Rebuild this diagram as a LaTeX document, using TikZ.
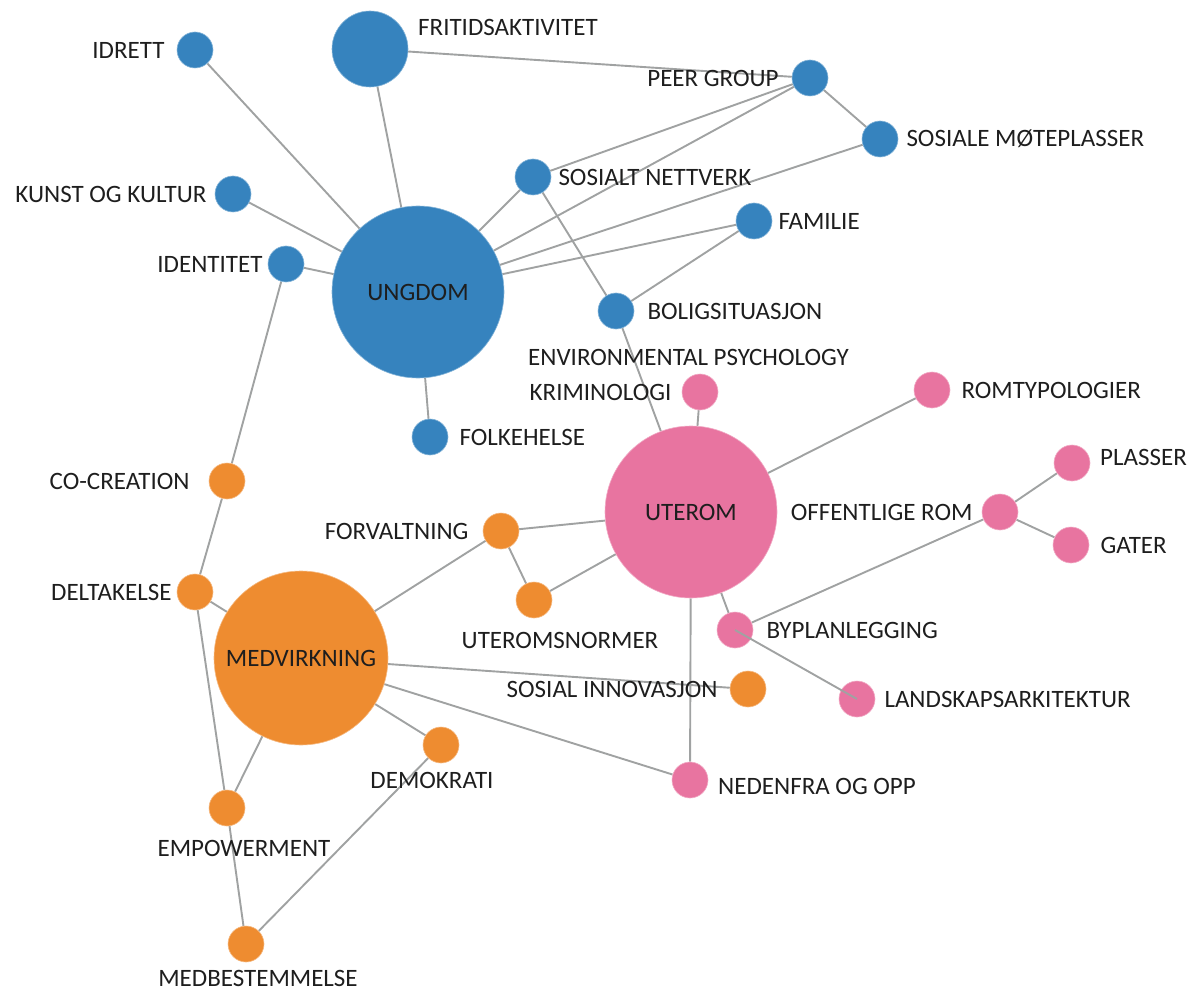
\documentclass[tikz,border=0pt]{standalone}
\usepackage{fontspec}
\setmainfont{Carlito}
\usetikzlibrary{positioning}
\definecolor{youth}{HTML}{3683BE}
\definecolor{space}{HTML}{E874A0}
\definecolor{partic}{HTML}{EE8C30}
\definecolor{edgegray}{HTML}{A0A2A2}
\definecolor{ink}{HTML}{1E1E1E}
\pgfdeclarelayer{bg}
\pgfsetlayers{bg,main}

\begin{document}
\begin{tikzpicture}[x=1pt, y=-1pt,
    every node/.style={font=\fontsize{25}{29}\selectfont, text=ink},
    dot/.style={circle, inner sep=0pt, minimum size=36pt, draw=white!40!#1, line width=0.6pt, fill=#1},
    hub/.style={dot=#1, minimum size=172pt},
    txt/.style={inner sep=0pt},
    link/.style={draw=edgegray, line width=1.9pt}
]
    \useasboundingbox (0,0) rectangle (1199,992);

    % Ungdom cluster
    \node[hub=youth] (ungdom) at (418,292) {UNGDOM};
    \node[dot=youth, minimum size=76pt] (frit) at (370,49) {};
    \node[dot=youth] (idrett) at (195,50) {};
    \node[dot=youth] (peer) at (810,78) {};
    \node[dot=youth] (sosmote) at (880,139) {};
    \node[dot=youth] (nettverk) at (533,177) {};
    \node[dot=youth] (kunst) at (233,194) {};
    \node[dot=youth] (familie) at (754,221) {};
    \node[dot=youth] (identitet) at (286,264) {};
    \node[dot=youth] (bolig) at (616,311) {};
    \node[dot=youth] (folkehelse) at (430,437) {};

    % Uterom cluster
    \node[hub=space] (uterom) at (691,512) {UTEROM};
    \node[dot=space] (krim) at (700,392) {};
    \node[dot=space] (romtyp) at (932,390) {};
    \node[dot=space] (offrom) at (1000,512) {};
    \node[dot=space] (plasser) at (1072,463) {};
    \node[dot=space] (gater) at (1071,545) {};
    \node[dot=space] (byplan) at (735,630) {};
    \node[dot=space] (landskap) at (857,699) {};
    \node[dot=space] (nedenfra) at (690,780) {};

    % Medvirkning cluster
    \node[hub=partic, minimum size=174pt] (medv) at (301,658) {MEDVIRKNING};
    \node[dot=partic] (cocre) at (227,481) {};
    \node[dot=partic] (forvalt) at (501,531) {};
    \node[dot=partic] (deltak) at (195,592) {};
    \node[dot=partic] (normer) at (534,600) {};
    \node[dot=partic] (sosinn) at (748,689) {};
    \node[dot=partic] (demokr) at (441,745) {};
    \node[dot=partic] (empow) at (227,808) {};
    \node[dot=partic] (medbest) at (246,944) {};

    % Labels
    \node[txt, anchor=west] (lfrit) at (418,27) {FRITIDSAKTIVITET};
    \node[txt, left=12pt of idrett] (lidrett) {IDRETT};
    \node[txt, left=13pt of peer] (lpeer) {PEER GROUP};
    \node[txt, right=8pt of sosmote] (lsosmote) {SOSIALE MØTEPLASSER};
    \node[txt, right=7pt of nettverk] (lnettverk) {SOSIALT NETTVERK};
    \node[txt, left=8pt of kunst] (lkunst) {KUNST OG KULTUR};
    \node[txt, right=6pt of familie] (lfamilie) {FAMILIE};
    \node[txt, left=5pt of identitet] (lidentitet) {IDENTITET};
    \node[txt, right=13pt of bolig] (lbolig) {BOLIGSITUASJON};
    \node[txt, right=11pt of folkehelse] (lfolkehelse) {FOLKEHELSE};
    \node[txt, anchor=west] (lenv) at (528,357) {ENVIRONMENTAL PSYCHOLOGY};
    \node[txt, left=10pt of krim] (lkrim) {KRIMINOLOGI};
    \node[txt, right=11pt of romtyp] (lromtyp) {ROMTYPOLOGIER};
    \node[txt, anchor=west] (lplasser) at (1100,457) {PLASSER};
    \node[txt, right=11pt of gater] (lgater) {GATER};
    \node[txt, left=9pt of offrom] (lofffrom) {OFFENTLIGE ROM};
    \node[txt, left=19pt of cocre] (lcocre) {CO-CREATION};
    \node[txt, left=14pt of forvalt] (lforvalt) {FORVALTNING};
    \node[txt, left=5pt of deltak] (ldeltak) {DELTAKELSE};
    \node[txt] (lnormer) at (560,640) {UTEROMSNORMER};
    \node[txt, right=13pt of byplan] (lbyplan) {BYPLANLEGGING};
    \node[txt, left=12pt of sosinn] (lsosinn) {SOSIAL INNOVASJON};
    \node[txt, right=9pt of landskap] (llandskap) {LANDSKAPSARKITEKTUR};
    \node[txt] (ldemokr) at (432,780) {DEMOKRATI};
    \node[txt, anchor=west] (lnedenfra) at (718,786) {NEDENFRA OG OPP};
    \node[txt] (lempow) at (244,848) {EMPOWERMENT};
    \node[txt] (lmedbest) at (258,978) {MEDBESTEMMELSE};

    % Edges
    \begin{pgfonlayer}{bg}
    \foreach \a/\b in {ungdom/frit, ungdom/idrett, ungdom/kunst, ungdom/identitet,
        ungdom/nettverk, ungdom/peer, ungdom/sosmote, ungdom/familie, ungdom/folkehelse,
        frit/peer, peer/sosmote, nettverk/peer, nettverk/bolig, familie/bolig,
        bolig/uterom, identitet/cocre, cocre/deltak, deltak/medv, deltak/empow,
        empow/medbest, medv/empow, medv/forvalt, medv/sosinn, medv/nedenfra,
        medv/demokr, demokr/medbest, forvalt/uterom, forvalt/normer, normer/uterom,
        uterom/krim, uterom/romtyp, uterom/byplan, uterom/nedenfra,
        byplan/offrom, offrom/plasser, offrom/gater}
        \draw[link] (\a) -- (\b);
    \end{pgfonlayer}
    \draw[link] (byplan.center) -- (landskap.center);
\end{tikzpicture}
\end{document}
